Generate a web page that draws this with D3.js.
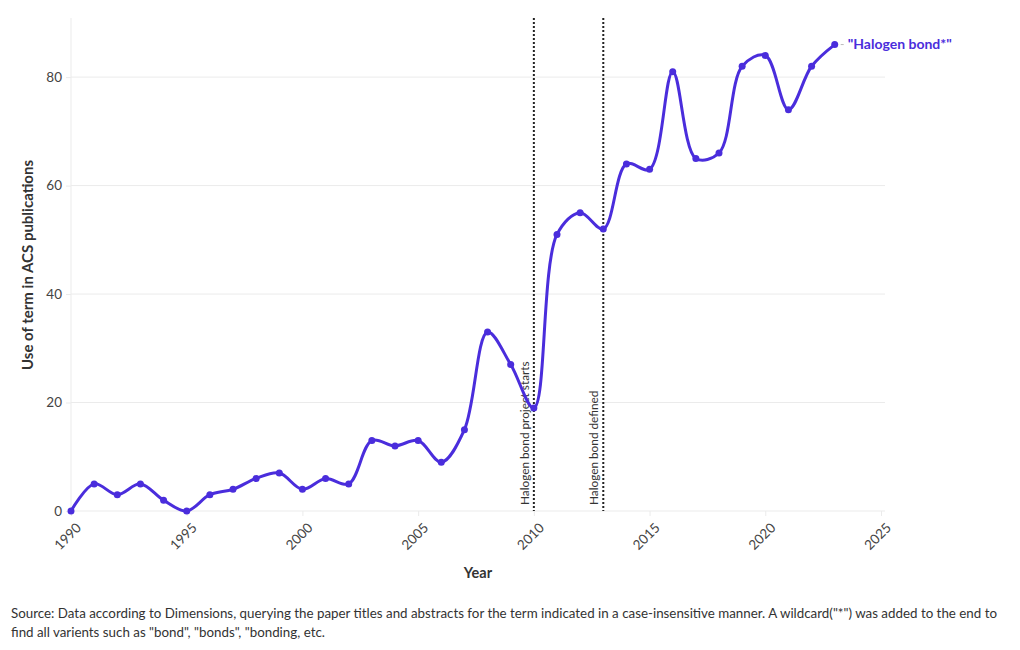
<!DOCTYPE html>
<html><head><meta charset="utf-8">
<script src="https://cdn.jsdelivr.net/npm/d3@7"></script>
<style>
body{margin:0;background:#fff;}
svg{font-family:Lato,"Open Sans",sans-serif;}
</style></head>
<body><svg id="c" width="1020" height="650"></svg>
<script>
const years = [1990,1991,1992,1993,1994,1995,1996,1997,1998,1999,2000,2001,2002,2003,2004,2005,2006,2007,2008,2009,2010,2011,2012,2013,2014,2015,2016,2017,2018,2019,2020,2021,2022,2023];
const counts = [0,5,3,5,2,0,3,4,6,7,4,6,5,13,12,13,9,15,33,27,19,51,55,52,64,63,81,65,66,82,84,74,82,86];
const xTicks = [1990,1995,2000,2005,2010,2015,2020,2025];
const yTicks = [0,20,40,60,80];
const events = [{year:2010,label:"Halogen bond project starts"},{year:2013,label:"Halogen bond defined"}];
const seriesName = '"Halogen bond*"';
const color = "#4a2ddc";

const svg = d3.select("#c");
const L=71, R=881, T=18, B=511;
const x = d3.scaleLinear().domain([1990,2025]).range([L,R]);
const y = d3.scaleLinear().domain([0,90.9]).range([B,T]);

// gridlines
svg.append("g").selectAll("line").data(yTicks).join("line")
  .attr("x1",L).attr("x2",885).attr("y1",d=>y(d)).attr("y2",d=>y(d))
  .attr("stroke","#ebebeb").attr("stroke-width",1);
svg.append("line").attr("x1",L).attr("x2",L).attr("y1",T).attr("y2",B).attr("stroke","#ebebeb");

// y axis
const ya = svg.append("g").attr("transform",`translate(${L},0)`)
  .call(d3.axisLeft(y).tickValues(yTicks).tickSize(5).tickPadding(4));
ya.select(".domain").remove();
ya.selectAll("line").attr("stroke","#ebebeb");
ya.selectAll("text").attr("fill","#444").attr("font-size",13.5).attr("font-family","Lato,sans-serif");

// x axis
const xa = svg.append("g").attr("transform",`translate(0,${B})`)
  .call(d3.axisBottom(x).tickValues(xTicks).tickFormat(d3.format("d")).tickSize(5));
xa.select(".domain").remove();
xa.selectAll("line").attr("stroke","#ebebeb");
xa.selectAll("text").attr("fill","#444").attr("font-size",13.5).attr("font-family","Lato,sans-serif")
  .attr("text-anchor","end").attr("dy",0).attr("dx",0)
  .attr("transform","translate(5,12) rotate(-45)");

// event lines
svg.append("g").selectAll("line").data(events).join("line")
  .attr("x1",d=>x(d.year)).attr("x2",d=>x(d.year)).attr("y1",T).attr("y2",B)
  .attr("stroke","#222").attr("stroke-width",2).attr("stroke-dasharray","2,2");
svg.append("g").selectAll("text").data(events).join("text")
  .attr("transform",d=>`translate(${x(d.year)-5},${B-6}) rotate(-90)`)
  .attr("font-size",11.8).attr("fill","#333").attr("text-anchor","start")
  .text(d=>d.label);

// line
const data = years.map((yr,i)=>({yr,v:counts[i]}));
svg.append("path").datum(data)
  .attr("d", d3.line().x(d=>x(d.yr)).y(d=>y(d.v)).curve(d3.curveCatmullRom.alpha(0.5)))
  .attr("fill","none").attr("stroke",color).attr("stroke-width",3);
svg.append("g").selectAll("circle").data(data).join("circle")
  .attr("cx",d=>x(d.yr)).attr("cy",d=>y(d.v)).attr("r",3.5).attr("fill",color);

// series label
const last = data[data.length-1];
svg.append("line").attr("x1",x(last.yr)+6).attr("x2",x(last.yr)+9)
  .attr("y1",y(last.v)).attr("y2",y(last.v)).attr("stroke","#bbb");
svg.append("text").attr("x",x(last.yr)+13).attr("y",y(last.v)+4.5)
  .attr("fill",color).attr("font-weight","bold").attr("font-size",14).text(seriesName);

// axis titles
svg.append("text").attr("x",(L+885)/2).attr("y",578).attr("text-anchor","middle")
  .attr("font-weight","bold").attr("font-size",14.5).attr("fill","#333").text("Year");
svg.append("text").attr("transform",`translate(33,${265}) rotate(-90)`).attr("text-anchor","middle")
  .attr("font-weight","bold").attr("font-size",15).attr("fill","#333").text("Use of term in ACS publications");

// footer
const foot = svg.append("text").attr("x",11).attr("font-size",13.35).attr("fill","#333");
foot.append("tspan").attr("x",11).attr("y",618).text('Source: Data according to Dimensions, querying the paper titles and abstracts for the term indicated in a case-insensitive manner. A wildcard("*") was added to the end to');
foot.append("tspan").attr("x",11).attr("y",637).text('find all varients such as "bond", "bonds", "bonding, etc.');
</script></body></html>
